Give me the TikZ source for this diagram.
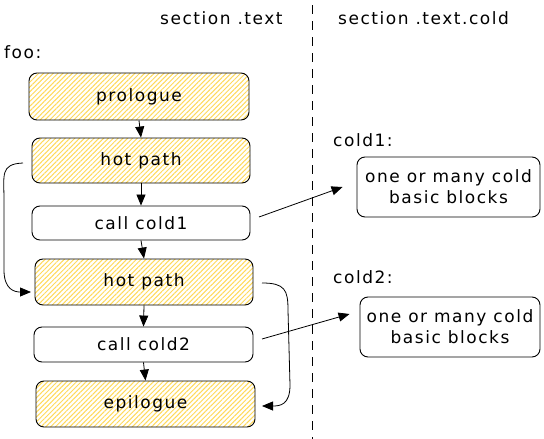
\documentclass[tikz,border=0pt]{standalone}
\usepackage{fontspec}
\setmainfont[LetterSpace=9]{DejaVu Sans}
\usetikzlibrary{arrows.meta,patterns.meta}
\definecolor{hatch}{HTML}{FFD95A}
\begin{document}
\begin{tikzpicture}[x=1pt,y=-1pt,
  font=\fontsize{17}{21}\selectfont,
  blk/.style={draw=black,line width=0.9pt,rounded corners=8pt,inner sep=0pt},
  hot/.style={blk,pattern={Lines[angle=45,distance=3.4pt,line width=1pt]},pattern color=hatch},
  arr/.style={line width=0.8pt,-{Triangle[length=11pt,width=9pt]}},
  lbl/.style={inner sep=0pt,anchor=west}]
\useasboundingbox (0,0) rectangle (544,439);
% dashed separator
\coordinate (dtop) at (312,5);
\coordinate (dbot) at (312,439);
\draw[line width=0.9pt,dash pattern=on 9pt off 7pt] (dtop) -- (dbot);
% titles
\node[lbl] (t1) at (160,18) {section .text};
\node[lbl] (t2) at (338,18) {section .text.cold};
\node[lbl] (foo) at (4,52) {foo:};
\node[lbl] (c1l) at (333,140) {cold1:};
\node[lbl] (c2l) at (333,277) {cold2:};
% boxes
\node[hot,minimum width=220pt,minimum height=47pt] (pro) at (139,96.5) {prologue};
\node[hot,minimum width=218pt,minimum height=45pt] (hot1) at (141,160.5) {hot path};
\node[blk,minimum width=218pt,minimum height=34pt] (cc1) at (141,223) {call cold1};
\node[hot,minimum width=218pt,minimum height=46pt] (hot2) at (144,282) {hot path};
\node[blk,minimum width=219pt,minimum height=35pt] (cc2) at (143.5,344.5) {call cold2};
\node[hot,minimum width=219pt,minimum height=46pt] (epi) at (145.5,404) {epilogue};
\node[blk,minimum width=183pt,minimum height=60pt,align=center] (cb1) at (448.5,187) {one or many cold\\basic blocks};
\node[blk,minimum width=180pt,minimum height=60pt,align=center] (cb2) at (450,327) {one or many cold\\basic blocks};
% vertical arrows
\draw[arr] (pro.south) -- (hot1.north);
\draw[arr] (hot1.south) -- (cc1.north);
\draw[arr] (cc1.south) -- (hot2.north);
\draw[arr] (hot2.south) -- (cc2.north);
\draw[arr] (cc2.south) -- (epi.north);
% calls
\coordinate (s1) at (259,217);
\coordinate (s2) at (262,339);
\draw[arr] (s1) -- ([xshift=-14pt]cb1.west |- 0,187);
\draw[arr] (s2) -- ([xshift=-10pt]cb2.west |- 0,314);
% loops
\coordinate (l1) at (23,163);
\coordinate (l2) at (31,292);
\draw[arr] (l1) .. controls (0,164) and (4,175) .. (4,200)
  -- (4,270) .. controls (4,290) and (15,292) .. (l2);
\coordinate (r1) at (262,283);
\coordinate (r2) at (262,406);
\draw[arr] (r1) .. controls (285,283) and (288,290) .. (288,310)
  -- (290,385) .. controls (290,405) and (280,406) .. (r2);
\end{tikzpicture}
\end{document}
